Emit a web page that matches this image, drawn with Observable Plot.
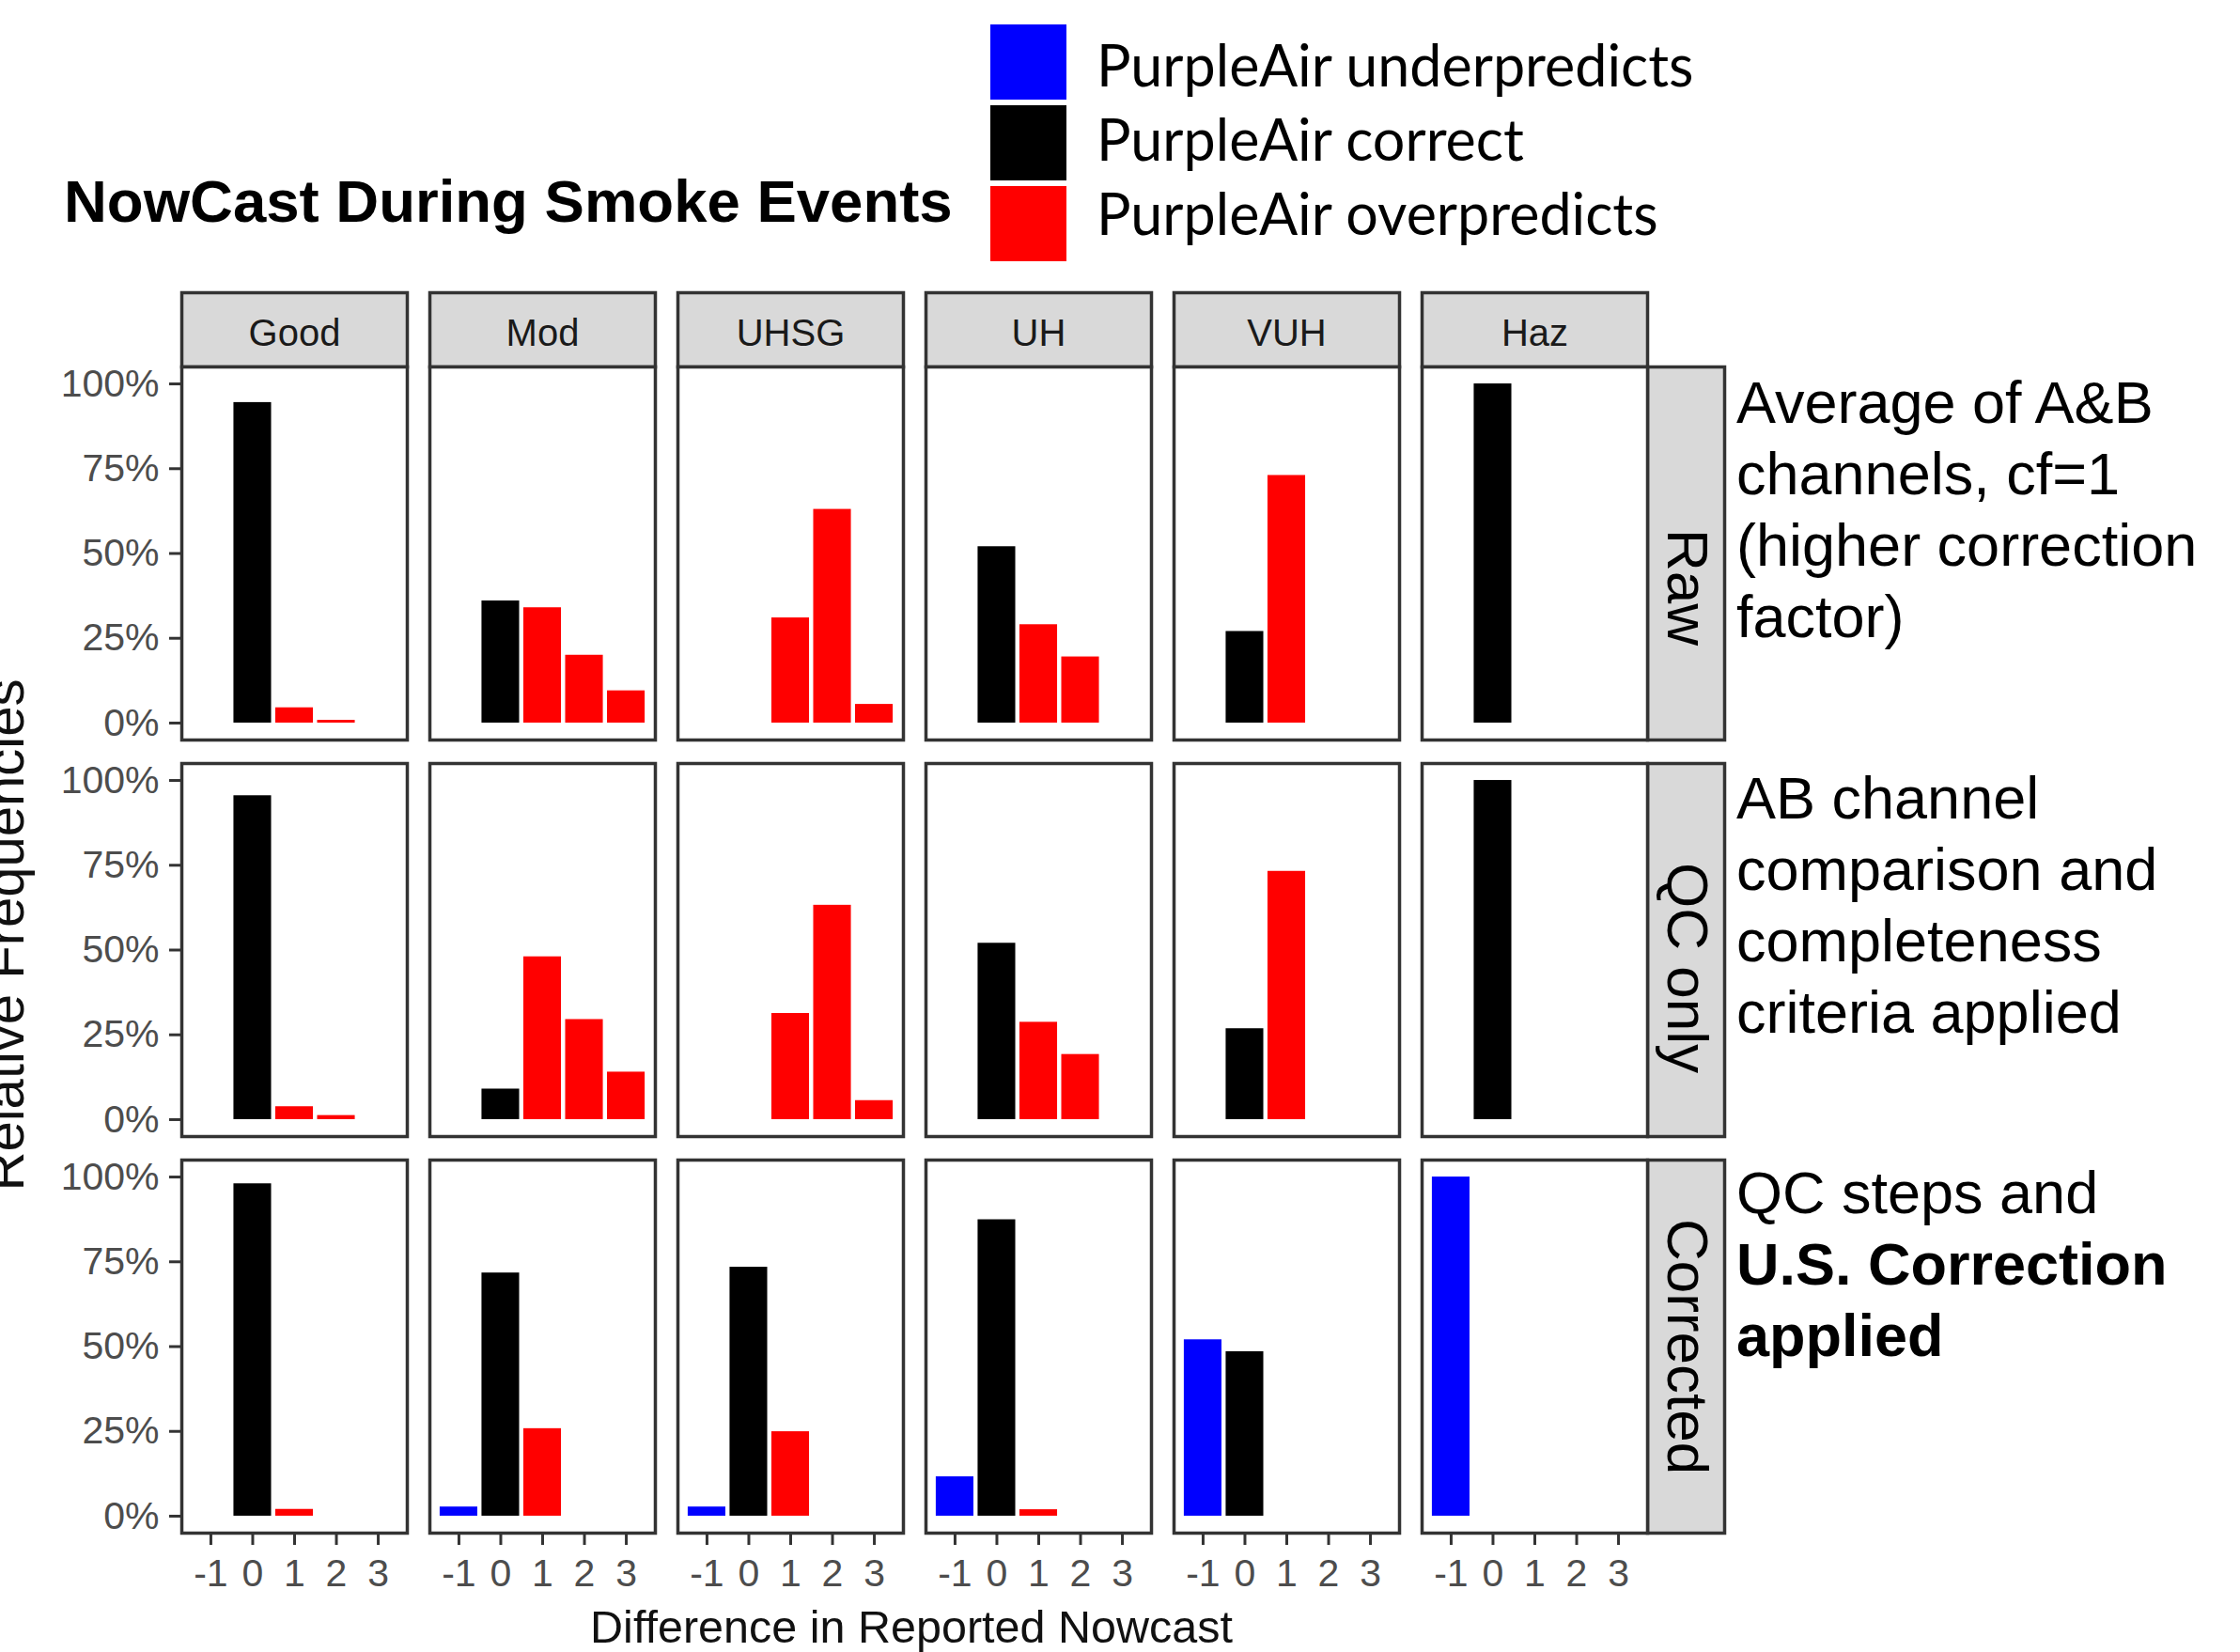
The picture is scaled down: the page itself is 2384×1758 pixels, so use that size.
<!DOCTYPE html>
<html>
<head>
<meta charset="utf-8">
<script src="https://cdn.jsdelivr.net/npm/d3@7"></script>
<script src="https://cdn.jsdelivr.net/npm/@observablehq/plot@0.6"></script>
<style>
html, body { margin: 0; padding: 0; background: #fff; }
#page { position: relative; width: 2384px; height: 1758px; overflow: hidden; font-family: "Liberation Sans", Arial, sans-serif; background: #fff; }
#chart { position: absolute; left: 0; top: 0; }
.abs { position: absolute; white-space: nowrap; }
#title { left: 68px; top: 183px; font-size: 63.5px; line-height: 1; font-weight: bold; color: #000; }
#ytitle { left: 5px; top: 994.5px; font-size: 58px; line-height: 1; color: #111; transform: translate(-50%, -50%) rotate(-90deg); }
#xtitle { left: 970px; top: 1707px; font-size: 48.5px; line-height: 1; color: #111; transform: translateX(-50%); }
.note { left: 1848px; font-size: 63px; line-height: 76px; color: #000; }
#swatches { position: absolute; left: 1054px; top: 26px; }
.lsw { width: 81px; height: 80px; margin-bottom: 6px; }
#labels { position: absolute; left: 1167px; top: 29px; font-family: Lato, "Open Sans", sans-serif; font-size: 61px; line-height: 79px; color: #000; white-space: nowrap; }
</style>
</head>
<body>
<div id="page">
  <div id="chart"></div>
  <div class="abs" id="title">NowCast During Smoke Events</div>
  <div id="swatches"></div>
  <div id="labels"></div>
  <div class="abs" id="ytitle">Relative Frequencies</div>
  <div class="abs" id="xtitle">Difference in Reported Nowcast</div>
  <div class="abs note" style="top:389.5px">Average of A&amp;B<br>channels, cf=1<br>(higher correction<br>factor)</div>
  <div class="abs note" style="top:810.5px">AB channel<br>comparison and<br>completeness<br>criteria applied</div>
  <div class="abs note" style="top:1230.5px">QC steps and<br><b>U.S. Correction<br>applied</b></div>
</div>
<script>
// ---- data ----
const categories = ["Good", "Mod", "UHSG", "UH", "VUH", "Haz"];
const rows = ["Raw", "QC only", "Corrected"];
const diffs = [-1, 0, 1, 2, 3];
const xTicks = [-1, 0, 1, 2, 3];
const yTicks = [0, 25, 50, 75, 100];
const legendLabels = ["PurpleAir underpredicts", "PurpleAir correct", "PurpleAir overpredicts"];
const legendColors = ["#0000ff", "#000000", "#ff0000"];

// percent of hours at each difference (-1..3), one array per category
const rawValues = [
  [0, 94.5, 4.5, 0.8, 0],
  [0, 36, 34, 20, 9.5],
  [0, 0, 31, 63, 5.5],
  [0, 52, 29, 19.5, 0],
  [0, 27, 73, 0, 0],
  [0, 100, 0, 0, 0]
];
const qcValues = [
  [0, 95.5, 3.8, 1.2, 0],
  [0, 9, 48, 29.5, 14],
  [0, 0, 31.3, 63.2, 5.6],
  [0, 52, 28.7, 19.2, 0],
  [0, 26.8, 73.2, 0, 0],
  [0, 100, 0, 0, 0]
];
const correctedValues = [
  [0, 98, 2, 0, 0],
  [2.7, 71.7, 25.8, 0, 0],
  [2.7, 73.4, 24.9, 0, 0],
  [11.6, 87.4, 1.9, 0, 0],
  [52, 48.5, 0, 0, 0],
  [100, 0, 0, 0, 0]
];
const rowValues = [rawValues, qcValues, correctedValues];

// ---- table ----
const table = [];
rows.forEach((row, r) => {
  categories.forEach((cat, c) => {
    diffs.forEach((diff, k) => {
      const v = rowValues[r][c][k];
      if (v > 0) table.push({row, cat, diff, freq: v, type: legendLabels[diff < 0 ? 0 : diff === 0 ? 1 : 2]});
    });
  });
});

// ---- layout ----
const W = 2384, H = 1758;
const mL = 192, mR = 631, mT = 389, mB = 127;
const fxPad = 0.0916, fyPad = 0.0604;
const fxStep = (W - mL - mR) / (categories.length - fxPad);
const bandW = fxStep * (1 - fxPad);
const fyStep = (H - mT - mB) / (rows.length - fyPad);
const bandH = fyStep * (1 - fyPad);
const stripH = 79, stripW = 82;
const border = "#333333";

const rowLabelMarks = rows.map((r, i) => Plot.text([r], {
  fy: d => d, text: d => d, frameAnchor: "right", facetAnchor: "right",
  rotate: 90, dx: stripW / 2, dy: [36, 19, 0][i], textAnchor: "middle", lineAnchor: "middle",
  fontSize: 62, fill: "#000"
}));

const chart = Plot.plot({
  width: W, height: H,
  marginTop: mT, marginRight: mR, marginBottom: mB, marginLeft: mL,
  style: {fontFamily: '"Liberation Sans", Arial, sans-serif', background: "white", overflow: "visible"},
  fx: {domain: categories, paddingInner: fxPad, paddingOuter: 0, axis: null, label: null},
  fy: {domain: rows, paddingInner: fyPad, paddingOuter: 0, axis: null, label: null},
  x: {domain: [-1.695, 3.695]},
  y: {domain: [-5, 105]},
  color: {domain: legendLabels, range: legendColors},
  marks: [
    Plot.frame({facetAnchor: "top", fill: "#d9d9d9", stroke: border, strokeWidth: 3.5, insetTop: -stripH, insetBottom: bandH}),
    Plot.frame({facetAnchor: "right", fill: "#d9d9d9", stroke: border, strokeWidth: 3.5, insetLeft: bandW, insetRight: -stripW}),
    Plot.frame({fill: "white"}),
    Plot.rect(table, {fx: "cat", fy: "row", x1: d => d.diff - 0.45, x2: d => d.diff + 0.45, y1: 0, y2: "freq", fill: "type"}),
    Plot.frame({stroke: border, strokeWidth: 3.5}),
    Plot.text(categories, {fx: d => d, text: d => d, frameAnchor: "top", facetAnchor: "top", dy: -stripH / 2 + 4, lineAnchor: "middle", fontSize: 40, fill: "#1a1a1a"}),
    ...rowLabelMarks,
    Plot.axisY({ticks: yTicks, tickFormat: d => d + "%", tickSize: 13, tickPadding: 11, fontSize: 41, fill: "#4d4d4d", stroke: border, strokeWidth: 3, label: null}),
    Plot.axisX({ticks: xTicks, tickFormat: d => String(d), tickSize: 13, tickPadding: 14, fontSize: 41, fill: "#4d4d4d", stroke: border, strokeWidth: 3, label: null})
  ]
});
document.getElementById("chart").appendChild(chart);

// ---- legend ----
const swatches = document.getElementById("swatches");
const labels = document.getElementById("labels");
legendLabels.forEach((lab, i) => {
  const sw = document.createElement("div");
  sw.className = "lsw";
  sw.style.background = legendColors[i];
  swatches.appendChild(sw);
  const tx = document.createElement("div");
  tx.textContent = lab;
  labels.appendChild(tx);
});
</script>
</body>
</html>
